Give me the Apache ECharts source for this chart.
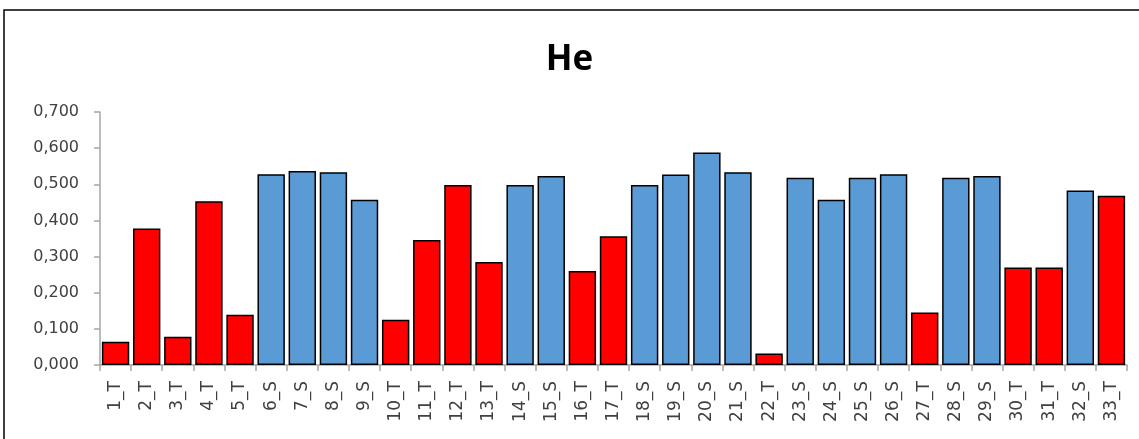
<!DOCTYPE html>
<html>
<head>
<meta charset="utf-8">
<script src="https://cdn.jsdelivr.net/npm/echarts@6/dist/echarts.min.js"></script>
<style>
  html, body { margin: 0; padding: 0; background: #fff; }
  #mychart { width: 1139px; height: 439px; }
</style>
</head>
<body>
<div id="mychart"></div>
<script>
// categories (suffix _T = red, _S = blue)
const xData = ["1_T", "2_T", "3_T", "4_T", "5_T", "6_S", "7_S", "8_S", "9_S", "10_T", "11_T",
  "12_T", "13_T", "14_S", "15_S", "16_T", "17_T", "18_S", "19_S", "20_S", "21_S", "22_T",
  "23_S", "24_S", "25_S", "26_S", "27_T", "28_S", "29_S", "30_T", "31_T", "32_S", "33_T"];
// He values
const yData = [0.064, 0.378, 0.078, 0.453, 0.139, 0.528, 0.537, 0.533, 0.457, 0.125, 0.346,
  0.498, 0.285, 0.498, 0.523, 0.260, 0.356, 0.498, 0.527, 0.588, 0.533, 0.032,
  0.518, 0.457, 0.518, 0.528, 0.145, 0.518, 0.523, 0.270, 0.270, 0.483, 0.468];
const yTicks = [0, 0.1, 0.2, 0.3, 0.4, 0.5, 0.6, 0.7];

const colorT = "#ff0000";
const colorS = "#5b9bd5";

const myChart = echarts.init(document.getElementById("mychart"));
const option = {
  backgroundColor: "#ffffff",
  animation: false,
  title: {
    text: "He",
    left: "center",
    top: 38,
    textStyle: { fontFamily: "Open Sans", fontWeight: "bold", fontSize: 35, color: "#000" }
  },
  // outer chart frame, cut off at right and bottom like the reference
  graphic: [{
    type: "rect",
    shape: { x: 4, y: 10, width: 1200, height: 500 },
    style: { fill: null, stroke: "#000", lineWidth: 1.5 },
    silent: true
  }],
  grid: { left: 100, right: 12, top: 112, bottom: 74 },
  xAxis: {
    type: "category",
    data: xData,
    axisLine: { lineStyle: { color: "#a6a6a6", width: 1.5 } },
    axisTick: { show: true, alignWithLabel: false, length: 6, lineStyle: { color: "#a6a6a6", width: 1.5 } },
    axisLabel: {
      rotate: 90, interval: 0, margin: 16,
      fontFamily: "DejaVu Sans", fontSize: 17, color: "#404040"
    }
  },
  yAxis: {
    type: "value",
    min: yTicks[0],
    max: yTicks[yTicks.length - 1],
    interval: 0.1,
    splitLine: { show: false },
    axisLine: { show: true, lineStyle: { color: "#a6a6a6", width: 1.5 } },
    axisTick: { show: true, length: 6, lineStyle: { color: "#a6a6a6", width: 1.5 } },
    axisLabel: {
      margin: 21,
      fontFamily: "DejaVu Sans", fontSize: 16, color: "#404040",
      formatter: v => v.toFixed(3).replace(".", ",")
    }
  },
  series: [{
    type: "bar",
    data: yData,
    barCategoryGap: "12%",
    itemStyle: {
      borderColor: "#000",
      borderWidth: 1.5,
      color: p => (xData[p.dataIndex].endsWith("_T") ? colorT : colorS)
    }
  }]
};
myChart.setOption(option);
</script>
</body>
</html>
